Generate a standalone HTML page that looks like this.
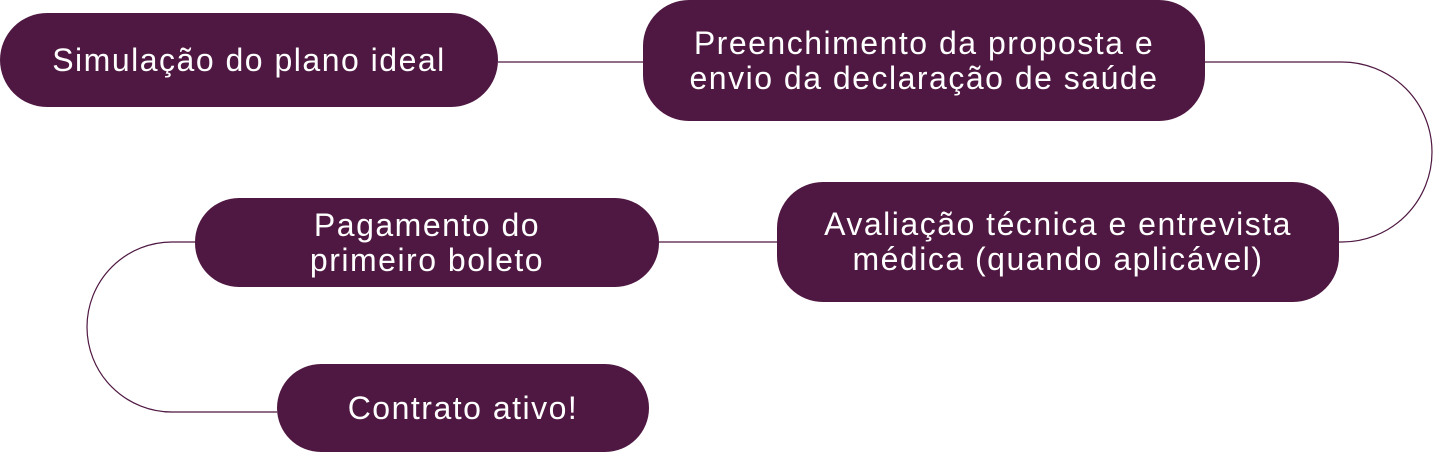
<!DOCTYPE html>
<html><head><meta charset="utf-8"><style>
html,body{margin:0;padding:0;background:#fff;}
body{width:1433px;height:453px;position:relative;overflow:hidden;font-family:"Liberation Sans",sans-serif;}
.n{position:absolute;background:#4f1842;color:#fff;display:flex;align-items:center;justify-content:center;text-align:center;font-size:32px;letter-spacing:1.5px;line-height:35px;white-space:nowrap;}
svg{position:absolute;left:0;top:0;}
</style></head><body>
<svg width="1433" height="453"><g fill="none" stroke="#4f1842" stroke-width="1.2">
<path d="M498 62 H643"/>
<path d="M1205 62 H1342 A90 90 0 0 1 1432 152 A90 90 0 0 1 1342 242 H1339"/>
<path d="M659 242 H777"/>
<path d="M195 242 H172 A85 85 0 0 0 87 327 A85 85 0 0 0 172 412 H277"/>
</g></svg>
<div class="n" style="left:0;top:13px;width:498px;height:94px;border-radius:47px;">Simulação do plano ideal</div>
<div class="n" style="left:643px;top:0;width:562px;height:121px;border-radius:46px;">Preenchimento da proposta e<br>envio da declaração de saúde</div>
<div class="n" style="left:777px;top:182px;width:562px;height:120px;border-radius:46px;">Avaliação técnica e entrevista<br>médica (quando aplicável)</div>
<div class="n" style="left:195px;top:198px;width:464px;height:89px;border-radius:44px;">Pagamento do<br>primeiro boleto</div>
<div class="n" style="left:277px;top:364px;width:372px;height:88px;border-radius:44px;">Contrato ativo!</div>
</body></html>
